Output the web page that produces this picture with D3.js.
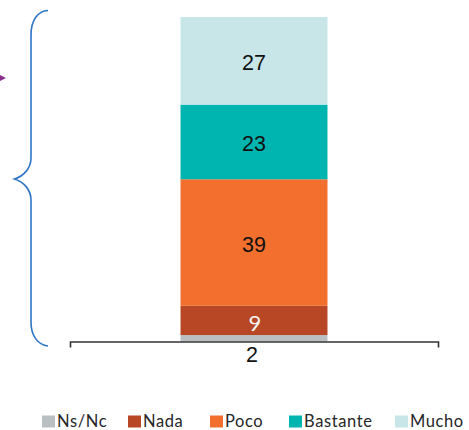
<!DOCTYPE html>
<html>
<head>
<meta charset="utf-8">
<script src="https://cdn.jsdelivr.net/npm/d3@7"></script>
<style>
  html, body { margin: 0; padding: 0; background: #fff; }
  svg { display: block; }
</style>
</head>
<body>
<svg id="chart" width="469" height="430"></svg>
<script>
// ---- data ----
const categories = ["Ns/Nc", "Nada", "Poco", "Bastante", "Mucho"];
const values = [2, 9, 39, 23, 27];
const colors = ["#BAC0C2", "#B84726", "#F36F2E", "#00B5B0", "#C8E6E8"];
const labelColors = ["#111111", "#F4F4F4", "#111111", "#111111", "#111111"];
const barGroup = ["total"];

// ---- setup ----
const svg = d3.select("#chart");

const x = d3.scaleBand().domain(barGroup).range([70, 438]).paddingInner(0).paddingOuter(0.752);
const y = d3.scaleLinear().domain([0, 100]).range([341.5, 17]);

// stack
const row = {};
categories.forEach((c, i) => row[c] = values[i]);
const series = d3.stack().keys(categories)([row]);

// bars
const bw = x.bandwidth();
svg.append("g").selectAll("rect")
  .data(series)
  .join("rect")
  .attr("x", x("total"))
  .attr("width", bw)
  .attr("y", d => y(d[0][1]))
  .attr("height", d => y(d[0][0]) - y(d[0][1]))
  .attr("fill", (d, i) => colors[i]);

// labels
const cx = x("total") + bw / 2;
svg.append("g").selectAll("text")
  .data(series)
  .join("text")
  .attr("x", (d, i) => i === 1 ? cx + 1 : (i === 0 ? cx - 2 : cx))
  .attr("y", (d, i) => {
    if (i === 0) return y(0) + 20.5;
    const mid = (y(d[0][0]) + y(d[0][1])) / 2;
    return i === 1 ? mid + 11 : mid + 9.5;
  })
  .attr("text-anchor", "middle")
  .attr("font-family", (d, i) => i === 1 ? "Lato, 'DejaVu Sans', sans-serif" : "'Liberation Sans', Arial, sans-serif")
  .attr("font-size", (d, i) => i === 1 ? 22 : 21.5)
  .attr("fill", (d, i) => labelColors[i])
  .text((d, i) => values[i]);

// axis
const axis = d3.axisBottom(x).tickSizeInner(0).tickSizeOuter(6).tickFormat("");
const gAxis = svg.append("g").attr("transform", `translate(0,${y(0)})`).call(axis);
gAxis.select(".domain").attr("stroke", "#333").attr("stroke-width", 1.6);
gAxis.selectAll(".tick").remove();

// curly brace (decoration)
const brace = d3.path();
brace.moveTo(48, 10.5);
brace.bezierCurveTo(38, 11, 31, 20, 31, 35);
brace.lineTo(31, 158);
brace.bezierCurveTo(31, 168, 24, 176, 14.5, 179);
brace.bezierCurveTo(24, 182, 31, 190, 31, 200);
brace.lineTo(31, 322);
brace.bezierCurveTo(31, 336, 38, 345, 48, 346);
svg.append("path").attr("d", brace.toString())
  .attr("fill", "none").attr("stroke", "#2E75C6").attr("stroke-width", 1.6);

// arrow tip
const arr = d3.path();
arr.moveTo(-2, 74);
arr.lineTo(6, 78);
arr.lineTo(-2, 82);
arr.closePath();
svg.append("path").attr("d", arr.toString()).attr("fill", "#8B2E8F");

// legend
const legendX = [42, 128, 210, 289, 395];
const lg = svg.append("g").selectAll("g")
  .data(categories)
  .join("g")
  .attr("transform", (d, i) => `translate(${legendX[i]},415.5)`);
lg.append("rect").attr("width", 13).attr("height", 12)
  .attr("fill", (d, i) => colors[i]);
lg.append("text")
  .attr("x", 15).attr("y", 11.5)
  .attr("font-family", "Lato, 'DejaVu Sans', sans-serif")
  .attr("font-size", 16.5)
  .attr("letter-spacing", 0.6)
  .attr("fill", "#262626")
  .text(d => d);
</script>
</body>
</html>
